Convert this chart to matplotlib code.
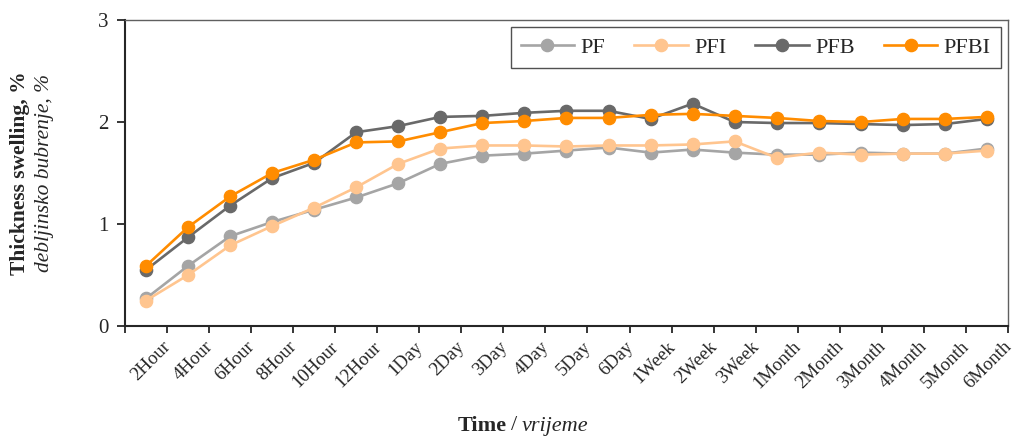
import matplotlib
matplotlib.use("Agg")
import matplotlib.pyplot as plt
import numpy as np

categories = ["2Hour", "4Hour", "6Hour", "8Hour", "10Hour", "12Hour", "1Day", "2Day",
              "3Day", "4Day", "5Day", "6Day", "1Week", "2Week", "3Week", "1Month",
              "2Month", "3Month", "4Month", "5Month", "6Month"]

PF = [0.27, 0.59, 0.88, 1.02, 1.14, 1.26, 1.40, 1.59, 1.67, 1.69, 1.72,
      1.75, 1.70, 1.73, 1.70, 1.68, 1.68, 1.70, 1.69, 1.69, 1.74]
PFI = [0.25, 0.50, 0.79, 0.98, 1.16, 1.36, 1.59, 1.74, 1.77, 1.77, 1.76,
       1.77, 1.77, 1.78, 1.81, 1.65, 1.70, 1.68, 1.69, 1.69, 1.72]
PFB = [0.55, 0.87, 1.18, 1.45, 1.60, 1.90, 1.96, 2.05, 2.06, 2.09, 2.11,
       2.11, 2.03, 2.18, 2.00, 1.99, 1.99, 1.98, 1.97, 1.98, 2.03]
PFBI = [0.59, 0.97, 1.27, 1.50, 1.63, 1.80, 1.81, 1.90, 1.99, 2.01, 2.04,
        2.04, 2.07, 2.08, 2.06, 2.04, 2.01, 2.00, 2.03, 2.03, 2.05]

series_names = ["PF", "PFI", "PFB", "PFBI"]
series_values = [PF, PFI, PFB, PFBI]
colors = ["#A5A5A5", "#FFC58F", "#696969", "#FF8C00"]

plt.rcParams['font.family'] = ['Liberation Serif', 'DejaVu Serif']

fig = plt.figure(figsize=(10.14, 4.38), dpi=100)
ax = fig.add_axes([0.1233, 0.2557, 0.8707, 0.6986])

x = np.arange(len(categories))
for name, vals, c in zip(series_names, series_values, colors):
    ax.plot(x, vals, color=c, lw=1.9, marker='o', markersize=8.8, label=name, zorder=3)

ax.set_xlim(-0.5, len(categories) - 0.5)
ax.set_ylim(0, 3)
ax.set_yticks([0, 1, 2, 3])
ax.set_yticklabels(["0", "1", "2", "3"], fontsize=15, color='#262626')

ax.set_xticks(np.arange(len(categories) + 1) - 0.5)
ax.set_xticklabels([])
ax.tick_params(axis='x', which='major', direction='out', length=5, width=1.3, color='#262626')
ax.tick_params(axis='y', which='major', direction='out', length=6, width=1.3, color='#262626', pad=6)

for i, lab in enumerate(categories):
    ax.text(i + 0.38, -0.12, lab, rotation=45, ha='right', va='top',
            rotation_mode='anchor', fontsize=13.5, color='#262626',
            transform=ax.transData)

for s in ['left', 'bottom']:
    ax.spines[s].set_color('#262626')
    ax.spines[s].set_linewidth(1.5)
for s in ['top', 'right']:
    ax.spines[s].set_color('#606060')
    ax.spines[s].set_linewidth(1.0)

leg = ax.legend(loc='upper right', bbox_to_anchor=(0.992, 0.977), ncol=4,
                fontsize=16, frameon=True, fancybox=False, borderaxespad=0,
                handlelength=2.4, columnspacing=1.3, handletextpad=0.3,
                borderpad=0.45)
leg.get_frame().set_edgecolor('#262626')
leg.get_frame().set_linewidth(1.0)
for t in leg.get_texts():
    t.set_color('#262626')

fig.text(20 / 1014, 1 - 173 / 438, "Thickness swelling, %", rotation=90,
         ha='center', va='center', fontsize=15.5, fontweight='bold', color='#262626')
fig.text(45 / 1014, 1 - 173 / 438, "debljinsko bubrenje, %", rotation=90,
         ha='center', va='center', fontsize=15.5, style='italic', color='#262626')

fig.text(507 / 1014, 1 - 426 / 438, "Time", ha='right', va='center',
         fontsize=16, fontweight='bold', color='#262626')
fig.text(514.5 / 1014, 1 - 426 / 438, "/", ha='center', va='center',
         fontsize=16, color='#262626')
fig.text(522 / 1014, 1 - 426 / 438, "vrijeme", ha='left', va='center',
         fontsize=16, style='italic', color='#262626')

fig.savefig("out.png", dpi=100)
